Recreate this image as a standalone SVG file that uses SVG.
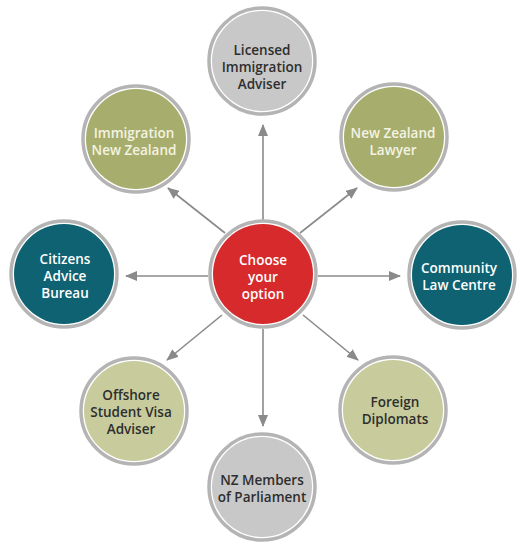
<svg xmlns="http://www.w3.org/2000/svg" width="528" height="555" viewBox="0 0 528 555">
<defs>
<marker id="ah" markerUnits="userSpaceOnUse" markerWidth="12" markerHeight="10" refX="11" refY="5" orient="auto">
<path d="M0,0 L12,5 L0,10 Z" fill="#8a8a8a"/>
</marker>
<style>
.ring{fill:#ffffff;stroke:#b4b4b4;stroke-width:3.5}
.t{font-family:"Open Sans","Liberation Sans",sans-serif;font-weight:600;font-size:13.5px;text-anchor:middle}
.w{fill:#ffffff}
.d{fill:#2e2e2e}
.ow{fill:#f4f3e2}
.conn line{stroke:#8a8a8a;stroke-width:1.6;marker-end:url(#ah)}
</style>
</defs>
<rect width="528" height="555" fill="#ffffff"/>
<g id="connectors" class="conn">
<line x1="263" y1="220" x2="263" y2="125"/>
<line x1="263" y1="329" x2="263" y2="426"/>
<line x1="208" y1="276" x2="126" y2="276"/>
<line x1="318" y1="276" x2="400" y2="276"/>
<line x1="225" y1="233" x2="168" y2="188"/>
<line x1="300" y1="233" x2="357" y2="188"/>
<line x1="222" y1="315" x2="167" y2="360"/>
<line x1="303" y1="315" x2="358" y2="360"/>
</g>
<g id="center">
<circle class="ring" cx="263" cy="274" r="53"/>
<circle cx="263" cy="274" r="50" fill="#d72a2c"/>
<text class="t w" x="263" y="265">Choose</text>
<text class="t w" x="263" y="282">your</text>
<text class="t w" x="263" y="299">option</text>
</g>
<g id="licensed">
<circle class="ring" cx="262" cy="61" r="53"/>
<circle cx="262" cy="61" r="50" fill="#c8c8c8"/>
<text class="t d" x="262" y="55">Licensed</text>
<text class="t d" x="262" y="72">Immigration</text>
<text class="t d" x="262" y="89">Adviser</text>
</g>
<g id="immigration-nz">
<circle class="ring" cx="136" cy="139" r="53"/>
<circle cx="136" cy="139" r="50" fill="#a7ae6d"/>
<text class="t ow" x="134" y="138">Immigration</text>
<text class="t ow" x="134" y="155">New Zealand</text>
</g>
<g id="nz-lawyer">
<circle class="ring" cx="394" cy="137" r="53"/>
<circle cx="394" cy="137" r="50" fill="#a7ae6d"/>
<text class="t ow" x="393" y="138">New Zealand</text>
<text class="t ow" x="393" y="155">Lawyer</text>
</g>
<g id="citizens">
<circle class="ring" cx="64" cy="274" r="53"/>
<circle cx="64" cy="274" r="50" fill="#0e6272"/>
<text class="t w" x="65" y="264">Citizens</text>
<text class="t w" x="65" y="281">Advice</text>
<text class="t w" x="65" y="298">Bureau</text>
</g>
<g id="community">
<circle class="ring" cx="462" cy="275" r="53"/>
<circle cx="462" cy="275" r="50" fill="#0e6272"/>
<text class="t w" x="459" y="273">Community</text>
<text class="t w" x="459" y="290">Law Centre</text>
</g>
<g id="offshore">
<circle class="ring" cx="134" cy="411" r="53"/>
<circle cx="134" cy="411" r="50" fill="#c8cc9d"/>
<text class="t d" x="131" y="400">Offshore</text>
<text class="t d" x="131" y="417">Student Visa</text>
<text class="t d" x="131" y="434">Adviser</text>
</g>
<g id="foreign">
<circle class="ring" cx="393" cy="410" r="53"/>
<circle cx="393" cy="410" r="50" fill="#c8cc9d"/>
<text class="t d" x="395" y="407">Foreign</text>
<text class="t d" x="395" y="424">Diplomats</text>
</g>
<g id="nz-members">
<circle class="ring" cx="262" cy="487" r="53"/>
<circle cx="262" cy="487" r="50" fill="#c8c8c8"/>
<text class="t d" x="262" y="485">NZ Members</text>
<text class="t d" x="262" y="502">of Parliament</text>
</g>
</svg>
